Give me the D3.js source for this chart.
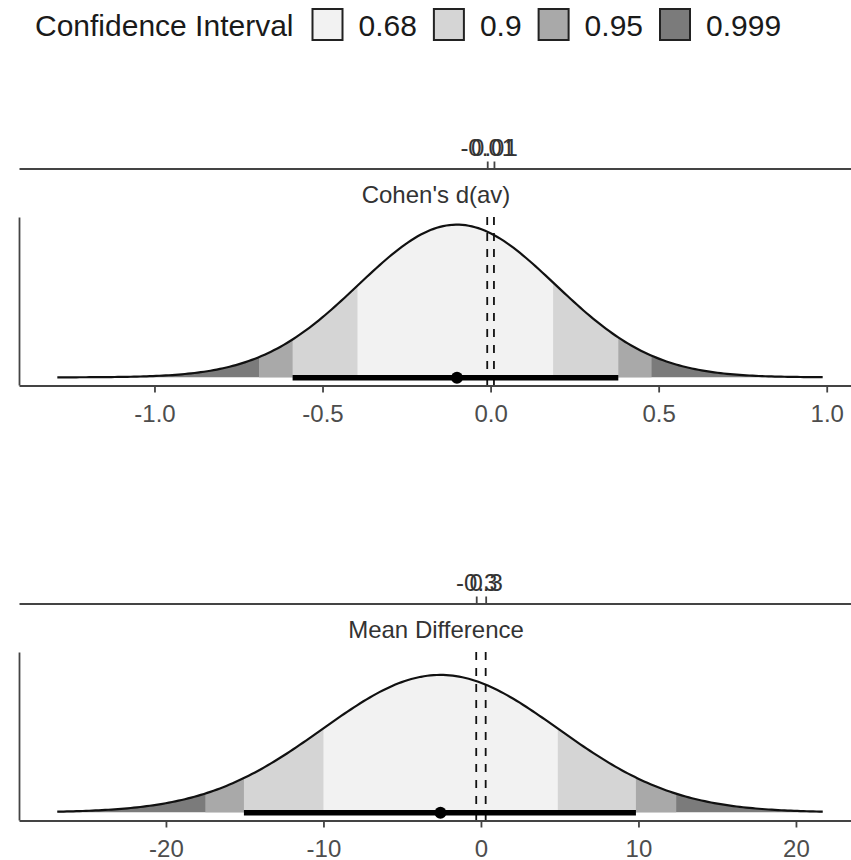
<!DOCTYPE html>
<html>
<head>
<meta charset="utf-8">
<script src="https://cdn.jsdelivr.net/npm/d3@7"></script>
<style>
  body { margin: 0; background: #fff; }
  text { font-family: "Liberation Sans", Arial, sans-serif; }
</style>
</head>
<body>
<div id="chart"></div>
<script>
// ****************************************************
// data
var panels = ["Cohen's d(av)", "Mean Difference"];
var estimates = [-0.10, -2.57];
var stdErrors = [0.293, 7.49];
var peakHeights = [1.0, 0.9];
var ci68 = [[-0.396, 0.186], [-10.0, 4.88]];
var ci90 = [[-0.589, 0.380], [-15.05, 9.84]];
var ci95 = [[-0.689, 0.479], [-17.5, 12.4]];
var ci999 = [[-1.289, 0.988], [-26.9, 21.7]];
var eqBounds = [[-0.01, 0.01], [-0.3, 0.3]];
var xDomains = [[-1.403, 1.102], [-29.33, 24.13]];
var xTicks = [[-1.0, -0.5, 0.0, 0.5, 1.0], [-20, -10, 0, 10, 20]];
var tickDigits = [1, 0];
var levels = ["0.68", "0.9", "0.95", "0.999"];
var levelColors = ["#f2f2f2", "#d5d5d5", "#a9a9a9", "#7b7b7b"];

// ****************************************************
// setup the svg area
var svgWidth = 851;
var svgHeight = 860;
var panelTops = [217, 652];
var panelHeight = 168;
var xLeft = 19;
var xRight = 861;

var svg = d3.select("#chart")
    .append("svg")
    .attr("width", svgWidth)
    .attr("height", svgHeight)
    .style("background", "#fff");

// ****************************************************
// legend
var legend = svg.append("g").attr("class", "legend");
var legendTitle = legend.append("text")
    .attr("x", 35)
    .attr("y", 36)
    .attr("font-size", 30)
    .attr("fill", "#1a1a1a")
    .text("Confidence Interval");

var lx = 35 + legendTitle.node().getComputedTextLength() + 19;
levels.forEach(function(lvl, i) {
    legend.append("rect")
        .attr("x", lx)
        .attr("y", 9)
        .attr("width", 30)
        .attr("height", 31)
        .attr("fill", levelColors[i])
        .attr("stroke", "#222")
        .attr("stroke-width", 2);
    var t = legend.append("text")
        .attr("x", lx + 30 + 16)
        .attr("y", 36)
        .attr("font-size", 30)
        .attr("fill", "#1a1a1a")
        .text(lvl);
    lx = lx + 30 + 16 + t.node().getComputedTextLength() + 17;
});

// ****************************************************
// one panel per effect size
panels.forEach(function(name, p) {
    var top = panelTops[p];
    var bottom = top + panelHeight;

    var xScale = d3.scaleLinear()
        .domain(xDomains[p])
        .range([xLeft, xRight]);

    var yScale = d3.scaleLinear()
        .domain([-0.05, 1.05])
        .range([bottom, top]);

    // density of the estimate
    var mu = estimates[p];
    var sd = stdErrors[p];
    function dens(x) {
        var z = (x - mu) / sd;
        return peakHeights[p] * Math.exp(-0.5 * z * z);
    }
    function pointsBetween(lo, hi) {
        var n = 240;
        var pts = [];
        for (var k = 0; k <= n; k++) {
            var x = lo + (hi - lo) * k / n;
            pts.push([x, dens(x)]);
        }
        return pts;
    }

    var area = d3.area()
        .x(function(d) { return xScale(d[0]); })
        .y0(yScale(0))
        .y1(function(d) { return yScale(d[1]); });

    var line = d3.line()
        .x(function(d) { return xScale(d[0]); })
        .y(function(d) { return yScale(d[1]); });

    var g = svg.append("g").attr("class", "panel");

    // shaded bands, widest first
    var bands = [ci999[p], ci95[p], ci90[p], ci68[p]];
    var bandColors = [levelColors[3], levelColors[2], levelColors[1], levelColors[0]];
    bands.forEach(function(b, i) {
        g.append("path")
            .datum(pointsBetween(b[0], b[1]))
            .attr("d", area)
            .attr("fill", bandColors[i])
            .attr("stroke", "none");
    });

    // outline
    g.append("path")
        .datum(pointsBetween(ci999[p][0], ci999[p][1]))
        .attr("d", line)
        .attr("fill", "none")
        .attr("stroke", "#111")
        .attr("stroke-width", 2.2);

    // equivalence bounds
    eqBounds[p].forEach(function(b) {
        g.append("line")
            .attr("x1", xScale(b))
            .attr("x2", xScale(b))
            .attr("y1", top)
            .attr("y2", bottom)
            .attr("stroke", "#111")
            .attr("stroke-width", 1.8)
            .attr("stroke-dasharray", "8,8");
    });

    // 90% interval and point estimate
    g.append("line")
        .attr("x1", xScale(ci90[p][0]))
        .attr("x2", xScale(ci90[p][1]))
        .attr("y1", yScale(0) + 0.5)
        .attr("y2", yScale(0) + 0.5)
        .attr("stroke", "#000")
        .attr("stroke-width", 5.5);

    g.append("circle")
        .attr("cx", xScale(mu))
        .attr("cy", yScale(0) + 0.5)
        .attr("r", 6)
        .attr("fill", "#000");

    // bottom axis
    var xAxis = d3.axisBottom(xScale)
        .tickValues(xTicks[p])
        .tickSize(7)
        .tickSizeOuter(0)
        .tickFormat(function(d) { return d.toFixed(tickDigits[p]); });

    var xg = svg.append("g")
        .attr("class", "xAxis")
        .attr("transform", `translate(0, ${bottom + 0.5})`)
        .call(xAxis);
    xg.select(".domain").attr("stroke", "#444").attr("stroke-width", 1.8);
    xg.selectAll(".tick line").attr("stroke", "#444").attr("stroke-width", 1.8);
    xg.selectAll(".tick text")
        .attr("dy", null)
        .attr("y", 36)
        .attr("font-size", 24)
        .attr("font-family", "Liberation Sans, Arial, sans-serif")
        .attr("fill", "#4d4d4d");

    // left axis, line only
    var yg = svg.append("g")
        .attr("class", "yAxis")
        .attr("transform", `translate(${xLeft}, 0)`)
        .call(d3.axisLeft(yScale).tickValues([]).tickSizeOuter(0));
    yg.select(".domain").attr("stroke", "#444").attr("stroke-width", 1.8);

    // top axis with the bounds
    var axisTopY = top - 48.5;
    var topAxis = d3.axisTop(xScale)
        .tickValues(eqBounds[p])
        .tickSize(7)
        .tickSizeOuter(0)
        .tickFormat(function(d) { return String(d); });

    var tg = svg.append("g")
        .attr("class", "topAxis")
        .attr("transform", `translate(0, ${axisTopY})`)
        .call(topAxis);
    tg.select(".domain").attr("stroke", "#444").attr("stroke-width", 1.8);
    tg.selectAll(".tick line").attr("stroke", "#444").attr("stroke-width", 1.8);
    tg.selectAll(".tick text")
        .attr("y", -13)
        .attr("font-size", 24)
        .attr("font-family", "Liberation Sans, Arial, sans-serif")
        .attr("fill", "#333");

    // strip label
    svg.append("text")
        .attr("x", 436)
        .attr("y", axisTopY + 34)
        .attr("text-anchor", "middle")
        .attr("font-size", 24)
        .attr("fill", "#333")
        .text(name);
});
</script>
</body>
</html>
